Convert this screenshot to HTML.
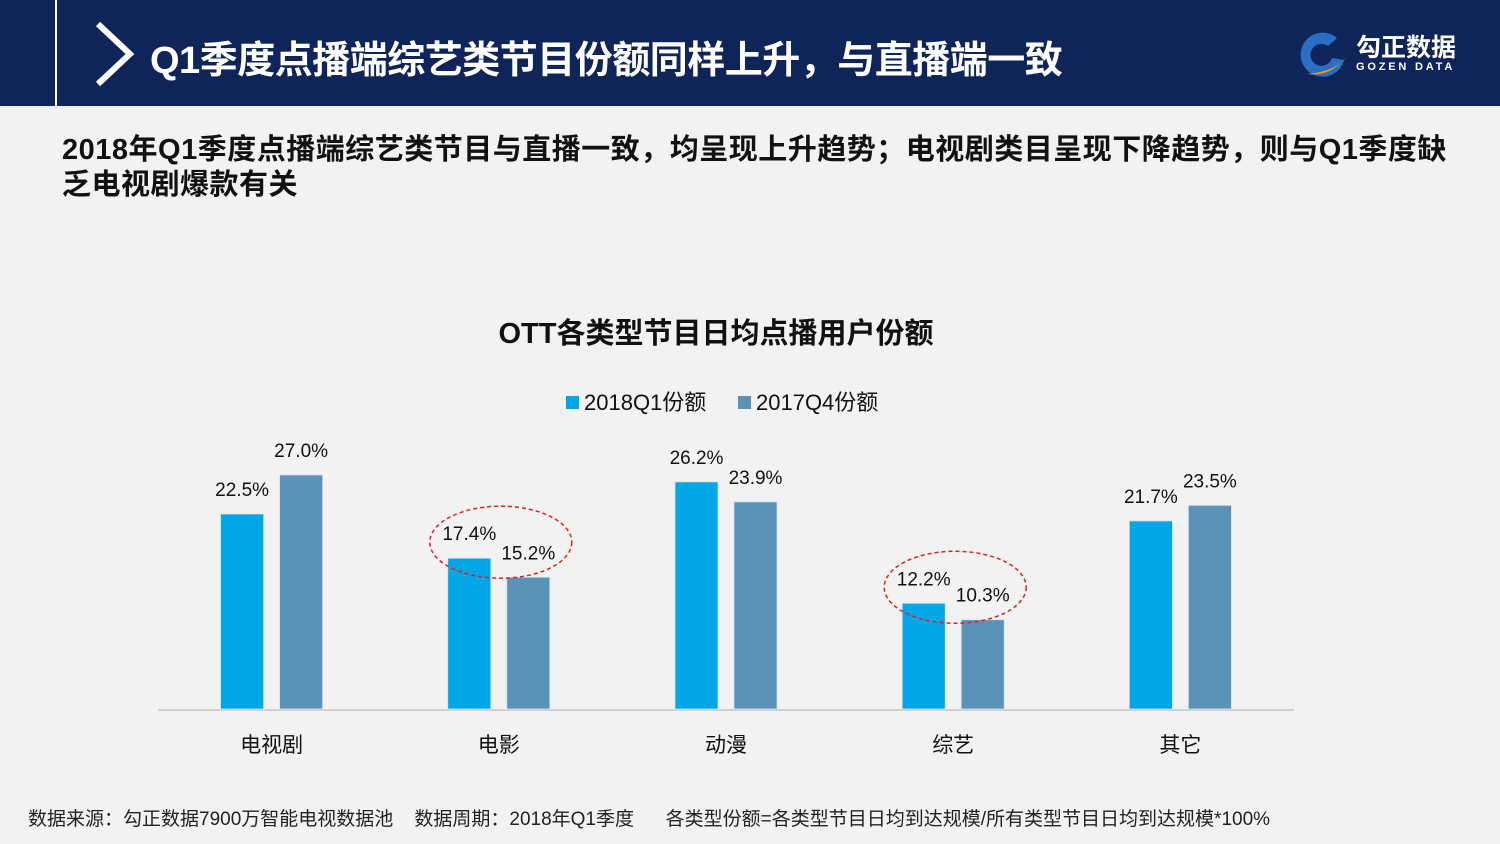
<!DOCTYPE html>
<html><head><meta charset="utf-8"><style>
body{margin:0;width:1500px;height:844px;background:#f2f2f2;overflow:hidden;font-family:"Liberation Sans","Noto Sans CJK SC",sans-serif;position:relative}
.hdr{position:absolute;left:0;top:0;width:1500px;height:106px;background:#0f2459}
.abs{position:absolute}
</style></head><body>
<div class="hdr"></div>
<div class="abs" style="left:55px;top:0;width:2px;height:106px;background:#fff"></div>
<svg class="abs" style="left:90px;top:18px" width="50" height="72"><polyline points="8,6 40,36 8,66" fill="none" stroke="#fff" stroke-width="6"/></svg>
<div class="abs" style="left:150px;top:29px;color:#fff;font-size:38px;font-weight:bold;white-space:nowrap;letter-spacing:-0.5px">Q1季度点播端综艺类节目份额同样上升，与直播端一致</div>
<div class="abs" style="left:1292px;top:30px;width:190px;height:50px">
<svg width="62" height="50" style="position:absolute;left:0;top:0"><path d="M45,8 A22,22 0 1 0 52,30 L40,28 A11,11 0 1 1 36,16 Z" fill="#2a6fc4"/><path d="M15,44 Q40,48 58,22 L52,30 Q40,42 15,44Z" fill="#f39c12"/></svg>
<div style="position:absolute;left:64px;top:-2px;color:#fff;font-size:25px;font-weight:bold;white-space:nowrap">勾正数据</div>
<div style="position:absolute;left:64px;top:31px;color:#fff;font-size:11px;font-weight:bold;letter-spacing:2.8px;white-space:nowrap">GOZEN DATA</div>
</div>
<div class="abs" style="left:62px;top:133px;width:1420px;font-size:29px;font-weight:bold;line-height:35px;color:#111;white-space:nowrap;letter-spacing:0.5px">2018年Q1季度点播端综艺类节目与直播一致，均呈现上升趋势；电视剧类目呈现下降趋势，则与Q1季度缺<br>乏电视剧爆款有关</div>
<svg class="abs" style="left:0;top:0" width="1500" height="844" id="chart"></svg>
<div class="abs" style="left:28px;top:804px;font-size:19px;color:#222;white-space:nowrap">数据来源：勾正数据7900万智能电视数据池&nbsp;&nbsp;&nbsp;&nbsp;数据周期：2018年Q1季度&nbsp;&nbsp;&nbsp;&nbsp;&nbsp;&nbsp;各类型份额=各类型节目日均到达规模/所有类型节目日均到达规模*100%</div>
<script>
const categories=["电视剧","电影","动漫","综艺","其它"];
const seriesNames=["2018Q1份额","2017Q4份额"];
const q1Values=[22.5,17.4,26.2,12.2,21.7];
const q4Values=[27.0,15.2,23.9,10.3,23.5];
const highlighted=[1,3];
const colors=["#00a6e6","#5b93b8"];
const NS="http://www.w3.org/2000/svg";
const svg=document.getElementById("chart");
const x0=158,x1=1294,base=709,scale=234/27;
const band=(x1-x0)/categories.length;
const xc=i=>x0+band*(i+0.5);
const y=v=>base-v*scale;
function mk(t,a){const e=document.createElementNS(NS,t);for(const k in a)e.setAttribute(k,a[k]);svg.appendChild(e);return e;}
let t=mk("text",{x:716,y:343,"text-anchor":"middle","font-size":29,"font-weight":"bold",fill:"#111"});t.textContent="OTT各类型节目日均点播用户份额";


const legX=[566,738];
seriesNames.forEach((n,s)=>{
 const r=mk("rect",{x:legX[s],y:396,width:13,height:13,fill:colors[s]});
 
 
 const tx=mk("text",{x:legX[s]+18,y:410,"font-size":22,fill:"#111"});tx.textContent=n;
 
 
});
const ax=mk("line",{x1:x0,x2:x1,y1:base+1,y2:base+1,stroke:"#d0d0d0","stroke-width":2});


categories.forEach((c,i)=>{
 [q1Values,q4Values].forEach((vals,s)=>{
  const cx=xc(i)+(s?29.5:-29.5);
  const r=mk("rect",{x:cx-21.5,y:y(vals[i]),width:43,height:vals[i]*scale,fill:colors[s],stroke:"#cfe3ef","stroke-width":0.8});
  
  
  const l=mk("text",{x:cx,y:y(vals[i])-18,"text-anchor":"middle","font-size":19,fill:"#111"});l.textContent=vals[i].toFixed(1)+"%";
  
  
 });
 const cl=mk("text",{x:xc(i),y:752,"text-anchor":"middle","font-size":21,fill:"#111"});cl.textContent=c;
 
 
});
highlighted.forEach(i=>{
 const top=Math.max(q1Values[i],q4Values[i]);
 const e=mk("ellipse",{cx:xc(i)+2,cy:y(top)-16,rx:71,ry:36,fill:"none",stroke:"#e02020","stroke-width":1.5,"stroke-dasharray":"4,3"});
 
 
});
</script>
</body></html>
